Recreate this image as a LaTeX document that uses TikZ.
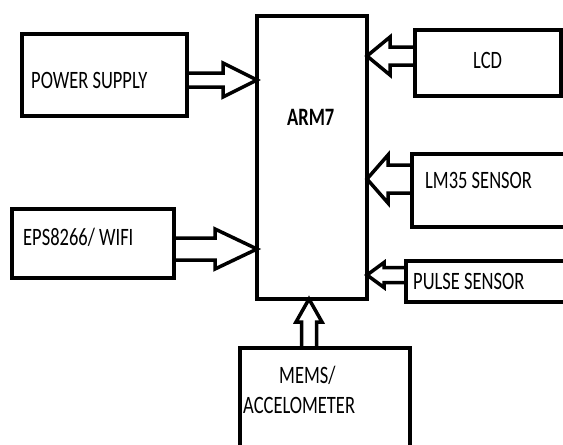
\documentclass[tikz,border=0pt]{standalone}
\usepackage{fontspec}
\setmainfont{Carlito}[FakeStretch=0.74]
\usetikzlibrary{calc}
\tikzset{
  blk/.style={draw, line width=4pt, inner sep=0pt},
  lbl/.style={inner sep=0pt, anchor=base west, font=\fontsize{25}{29}\selectfont},
  arr/.style={draw, line width=3.5pt, line join=miter},
}
\newcommand\harrR[5]{\draw[arr] let \p1=(#1), \p2=(#2) in (\x1,\y2+#3) -- (\x2-#5,\y2+#3) -- (\x2-#5,\y2+#4) -- (\x2,\y2) -- (\x2-#5,\y2-#4) -- (\x2-#5,\y2-#3) -- (\x1,\y2-#3);}
\newcommand\harrL[5]{\draw[arr] let \p1=(#1), \p2=(#2) in (\x1,\y2+#3) -- (\x2+#5,\y2+#3) -- (\x2+#5,\y2+#4) -- (\x2,\y2) -- (\x2+#5,\y2-#4) -- (\x2+#5,\y2-#3) -- (\x1,\y2-#3);}
\newcommand\varrU[5]{\draw[arr] let \p1=(#1), \p2=(#2) in (\x2+#3,\y1) -- (\x2+#3,\y2-#5) -- (\x2+#4,\y2-#5) -- (\x2,\y2) -- (\x2-#4,\y2-#5) -- (\x2-#3,\y2-#5) -- (\x2-#3,\y1);}
\begin{document}
\begin{tikzpicture}[x=1pt,y=-1pt]
\useasboundingbox (0,0) rectangle (563,445);
\clip (0,0) rectangle (563,445);
% boxes
\node[blk, minimum width=110pt, minimum height=283pt] (arm) at (312,157.5) {};
\node[blk, minimum width=165pt, minimum height=82pt] (ps) at (104.5,75) {};
\node[blk, minimum width=162pt, minimum height=69pt] (eps) at (93,243.5) {};
\node[blk, minimum width=146pt, minimum height=66pt] (lcd) at (488,63) {};
\node[blk, minimum width=170pt, minimum height=73pt] (lm) at (497,190.5) {};
\node[blk, minimum width=170pt, minimum height=41pt] (pul) at (491,281.5) {};
\node[blk, minimum width=170pt, minimum height=120pt] (mem) at (325,408) {};
% labels
\node[lbl, font=\fontsize{25}{29}\selectfont\bfseries] (tarm) at (287,125) {ARM7};
\node[lbl] (tps) at (31,88) {POWER SUPPLY};
\node[lbl] (teps) at (23,245) {EPS8266/ WIFI};
\node[lbl] (tlcd) at (473,68) {LCD};
\node[lbl] (tlm) at (425,188) {LM35 SENSOR};
\node[lbl] (tpul) at (413,289) {PULSE SENSOR};
\node[lbl] (tmem1) at (279,383) {MEMS/};
\node[lbl] (tmem2) at (243,413) {ACCELOMETER};
% arrow tips on ARM7
\coordinate (kps) at (257,80);
\coordinate (keps) at (257,249);
\coordinate (klcd) at (367,56);
\coordinate (klm) at (367,179);
\coordinate (kpul) at (367,275);
\coordinate (kmem) at (309,299);
% arrows
\harrR{ps.east}{kps}{7pt}{17pt}{34pt}
\harrR{eps.east}{keps}{11pt}{20pt}{42pt}
\harrL{lcd.west}{klcd}{9pt}{19pt}{23pt}
\harrL{lm.west}{klm}{14pt}{24pt}{21pt}
\harrL{pul.west}{kpul}{7.5pt}{12.5pt}{17pt}
\varrU{mem.north}{kmem}{7.5pt}{13pt}{23pt}
\end{tikzpicture}
\end{document}
